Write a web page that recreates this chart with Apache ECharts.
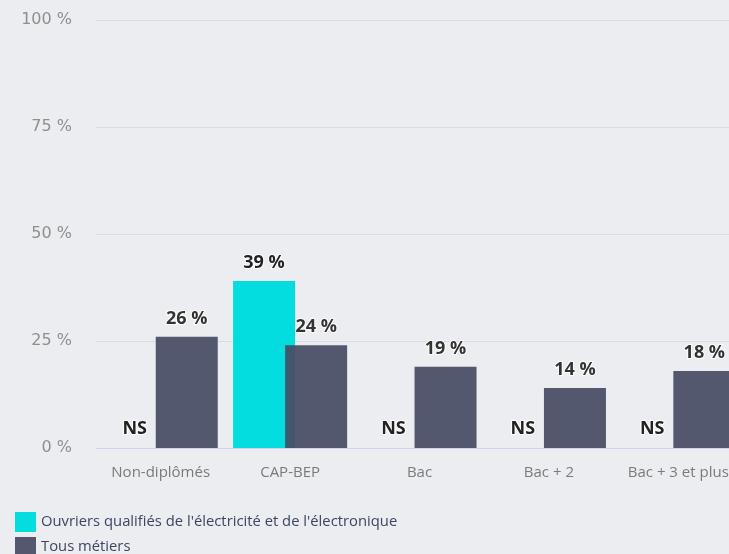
<!DOCTYPE html>
<html><head><meta charset="utf-8">
<script src="https://cdn.jsdelivr.net/npm/echarts@6/dist/echarts.min.js"></script>
<style>html,body{margin:0;padding:0;background:#ecedf0;}#c{width:729px;height:554px;}</style>
</head><body><div id="c"></div>
<script>
const categories = ['Non-diplômés', 'CAP-BEP', 'Bac', 'Bac + 2', 'Bac + 3 et plus'];
const seriesNames = ["Ouvriers qualifiés de l'électricité et de l'électronique", 'Tous métiers'];
const ouvriers = [null, 39, null, null, null];
const tous = [26, 24, 19, 14, 18];
const yTicks = [0, 25, 50, 75, 100];

const chart = echarts.init(document.getElementById('c'));
const labelStyle = {
  show: true, position: 'top', distance: 9,
  fontFamily: 'Open Sans', fontSize: 18, fontWeight: 'bold', color: '#222',
  textBorderColor: '#fff', textBorderWidth: 2
};
const legendBase = {
  orient: 'vertical', left: 10, itemWidth: 21, itemHeight: 20,
  icon: 'rect', textStyle: { fontFamily: 'Open Sans', fontSize: 14.8, color: '#3d4560', padding: [0, 0, 0, 0] }
};
chart.setOption({
  backgroundColor: '#ecedf0',
  animation: false,
  textStyle: { fontFamily: 'Open Sans' },
  grid: { left: 96, width: 647, top: 20, height: 428, containLabel: false, outerBoundsMode: 'none' },
  legend: [
    Object.assign({}, legendBase, { top: 507, data: [seriesNames[0]] }),
    Object.assign({}, legendBase, { top: 532, data: [seriesNames[1]] })
  ],
  xAxis: {
    type: 'category', data: categories,
    axisLine: { lineStyle: { color: '#ccd6eb' } }, axisTick: { show: false },
    axisLabel: { color: '#7a7a7a', fontSize: 15, margin: 17, interval: 0 }
  },
  yAxis: {
    type: 'value', min: yTicks[0], max: yTicks[yTicks.length - 1], interval: 25,
    axisLabel: { formatter: v => v + ' %', color: '#8f8f8f', fontSize: 16, fontFamily: 'DejaVu Sans', margin: 24 },
    splitLine: { lineStyle: { color: '#d8dce5' } }, axisLine: { show: false }, axisTick: { show: false }
  },
  series: [
    {
      name: seriesNames[0], type: 'bar', barWidth: 62, barGap: '-16%',
      data: ouvriers.map(v => v === null ? { value: 0, ns: true, label: { distance: 10 } } : v),
      itemStyle: { color: '#04dde0' },
      label: Object.assign({}, labelStyle, {
        formatter: p => (p.data && p.data.ns) ? 'NS' : p.value + ' %'
      })
    },
    {
      name: seriesNames[1], type: 'bar', barWidth: 62,
      data: tous,
      itemStyle: { color: '#474b63', opacity: 0.92 },
      label: Object.assign({}, labelStyle, { formatter: p => p.value + ' %' })
    }
  ]
});
</script></body></html>
